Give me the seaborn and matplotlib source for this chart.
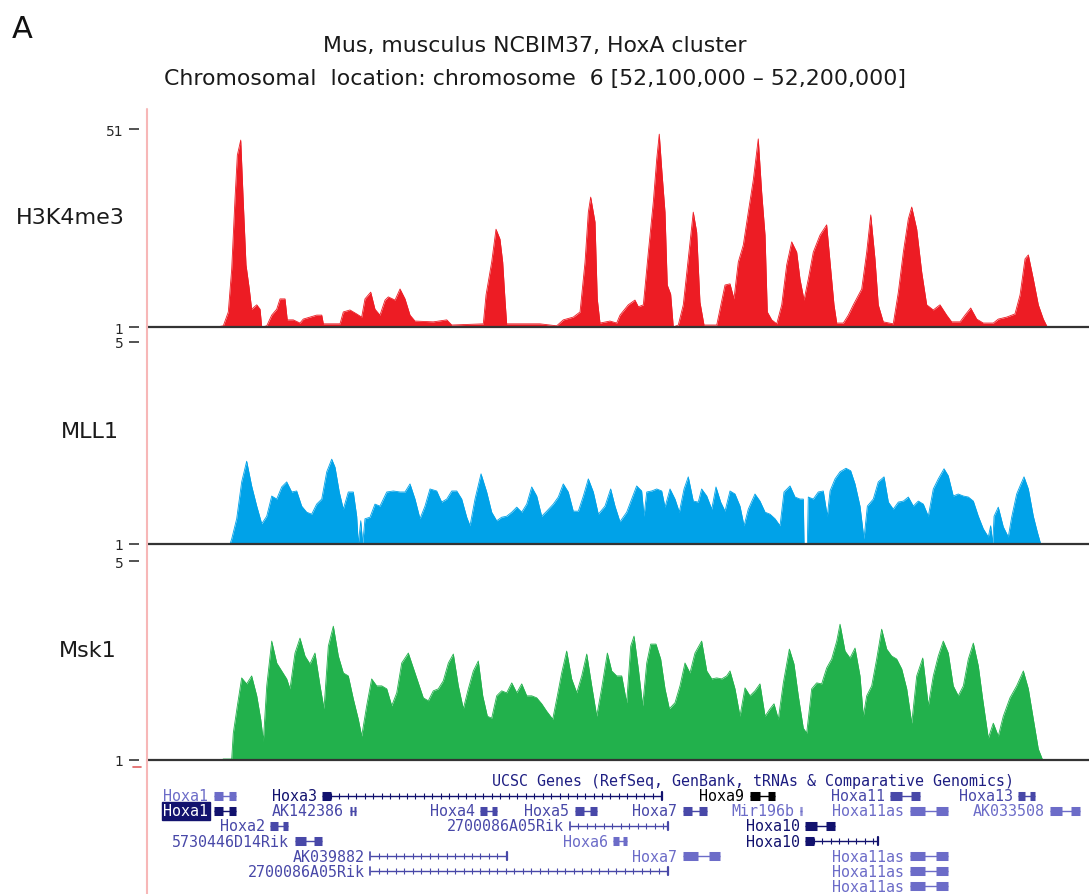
import numpy as np
import matplotlib.pyplot as plt
from matplotlib.lines import Line2D
import seaborn as sns

# 信号轨道数据：位置为 chr6:52,100,000 起的 kb 偏移
h3k4me3_kb = [7.40, 8.10, 8.63, 8.99, 9.34, 9.59, 9.95, 10.22, 10.51, 10.86,
              11.11, 11.65, 12.00, 12.18, 12.71, 13.24, 13.77, 14.12, 14.65, 14.89,
              15.53, 16.24, 16.59, 17.30, 18.01, 18.55, 18.72, 20.49, 20.84, 21.55,
              22.26, 22.79, 23.14, 23.75, 24.20, 24.73, 25.27, 25.62, 26.33, 26.86,
              27.39, 27.92, 28.45, 30.39, 31.82, 32.35, 35.70, 35.99, 36.59, 37.05,
              37.47, 37.76, 38.00, 38.18, 41.72, 43.49, 44.19, 45.25, 45.97, 46.50,
              46.85, 47.10, 47.56, 47.80, 48.09, 49.15, 49.86, 50.21, 51.09, 51.80,
              52.16, 52.69, 53.22, 53.75, 54.11, 54.38, 54.64, 54.99, 55.23, 55.59,
              55.87, 56.40, 56.93, 57.46, 57.99, 58.35, 58.70, 59.13, 60.48, 60.83,
              61.36, 61.89, 62.31, 62.77, 63.30, 63.83, 64.36, 64.89, 65.25, 65.61,
              65.85, 66.32, 66.85, 67.38, 67.91, 68.44, 68.97, 69.32, 69.75, 70.20,
              70.73, 71.44, 72.15, 72.51, 72.93, 73.22, 73.92, 74.45, 74.98, 75.87,
              76.40, 76.83, 77.28, 77.63, 78.16, 79.22, 79.76, 80.29, 80.82, 81.18,
              81.71, 82.24, 82.77, 83.47, 84.18, 84.89, 85.42, 86.31, 86.84, 87.44,
              88.08, 88.78, 89.84, 90.37, 91.26, 92.14, 92.68, 93.21, 93.56, 94.09,
              94.62, 95.15, 95.57]
h3k4me3_val = [1.0, 1.3, 4.8, 15.6, 33.3, 44.4, 48.2, 32.6, 16.7, 10.6,
               5.5, 6.6, 5.5, 1.0, 1.3, 4.0, 5.5, 8.1, 8.1, 2.8,
               2.8, 2.0, 3.0, 3.5, 4.0, 4.0, 1.8, 1.8, 4.8, 5.3,
               4.3, 3.5, 8.1, 9.8, 5.5, 4.0, 7.8, 8.6, 7.8, 10.6,
               8.1, 4.0, 2.5, 2.3, 2.8, 1.5, 1.8, 9.1, 17.4, 25.7,
               23.2, 17.4, 8.1, 1.8, 1.8, 1.3, 2.8, 3.5, 4.8, 17.4,
               30.0, 33.8, 27.5, 8.1, 2.0, 2.5, 2.0, 4.0, 6.6, 7.8,
               6.1, 6.6, 19.9, 32.6, 43.4, 49.7, 40.9, 30.0, 11.6, 9.3,
               1.0, 1.5, 6.6, 18.2, 30.0, 25.0, 7.3, 1.5, 1.5, 5.5,
               11.6, 11.9, 8.1, 17.4, 21.7, 30.0, 38.1, 48.5, 35.1, 24.2,
               4.8, 2.8, 1.8, 6.6, 16.7, 22.5, 19.9, 13.1, 7.8, 13.1,
               19.9, 24.2, 26.8, 17.4, 6.6, 2.0, 2.0, 4.0, 6.6, 10.6,
               19.9, 29.3, 18.2, 6.6, 2.3, 1.8, 9.8, 19.9, 28.3, 31.3,
               25.7, 14.9, 6.6, 5.3, 6.6, 4.0, 2.3, 2.3, 4.0, 5.8,
               3.0, 2.0, 2.0, 3.0, 3.5, 4.3, 9.1, 18.2, 19.2, 13.1,
               6.6, 3.0, 1.0]

mll1_kb = [8.81, 8.99, 9.52, 10.05, 10.58, 11.11, 11.65, 12.18, 12.71, 13.24,
           13.77, 14.30, 14.83, 15.36, 15.89, 16.42, 16.95, 17.48, 18.01, 18.55,
           19.08, 19.61, 19.96, 20.41, 20.84, 21.37, 21.90, 22.26, 22.43, 22.69,
           22.90, 23.14, 23.67, 24.20, 24.73, 25.45, 26.15, 26.86, 27.39, 27.92,
           28.45, 28.98, 29.51, 30.04, 30.75, 31.28, 31.82, 32.35, 32.88, 33.41,
           33.94, 34.29, 34.82, 35.46, 36.06, 36.59, 37.12, 37.65, 38.18, 38.72,
           39.25, 39.78, 40.31, 40.84, 41.37, 41.90, 42.43, 43.13, 43.66, 44.19,
           44.72, 45.25, 45.79, 46.32, 46.85, 47.38, 47.91, 48.62, 49.22, 49.68,
           50.21, 50.92, 51.45, 51.98, 52.51, 52.76, 53.05, 53.58, 54.11, 54.64,
           54.99, 55.52, 56.05, 56.51, 57.01, 57.46, 57.99, 58.52, 58.88, 59.42,
           59.95, 60.40, 60.90, 61.36, 61.89, 62.42, 62.95, 63.38, 63.83, 64.54,
           65.07, 65.61, 66.14, 66.67, 67.20, 67.62, 68.26, 68.79, 69.32, 69.67,
           69.75, 70.10, 70.20, 70.73, 71.26, 71.79, 72.22, 72.51, 73.04, 73.57,
           74.20, 74.70, 75.16, 75.69, 76.11, 76.47, 77.10, 77.63, 78.24, 78.70,
           79.22, 79.76, 80.29, 80.82, 81.35, 81.88, 82.41, 82.94, 83.47, 84.00,
           84.61, 85.06, 85.59, 86.12, 86.66, 87.19, 87.72, 88.25, 88.78, 89.31,
           89.56, 89.78, 89.92, 90.37, 90.90, 91.43, 91.79, 92.32, 92.68, 93.10,
           93.56, 94.09, 94.51, 94.87]
mll1_val = [1.00, 1.10, 1.50, 2.23, 2.64, 2.15, 1.75, 1.40, 1.55, 1.95,
            1.89, 2.13, 2.23, 2.03, 2.05, 1.75, 1.63, 1.59, 1.79, 1.89,
            2.43, 2.68, 2.52, 2.03, 1.69, 2.03, 2.03, 1.55, 1.00, 1.46,
            1.00, 1.50, 1.53, 1.79, 1.75, 2.03, 2.05, 2.03, 2.03, 2.19,
            1.89, 1.50, 1.75, 2.09, 2.05, 1.83, 1.89, 2.05, 2.05, 1.89,
            1.53, 1.36, 1.89, 2.39, 2.03, 1.63, 1.46, 1.53, 1.55, 1.63,
            1.73, 1.63, 1.79, 2.13, 1.95, 1.55, 1.65, 1.79, 1.93, 2.19,
            2.03, 1.65, 1.65, 1.95, 2.29, 2.03, 1.59, 1.75, 2.09, 1.75,
            1.44, 1.63, 1.89, 2.15, 2.05, 1.55, 2.03, 2.05, 2.09, 2.05,
            1.73, 2.09, 1.89, 1.63, 2.09, 2.33, 1.85, 1.83, 2.09, 1.95,
            1.69, 2.13, 1.83, 1.65, 2.05, 1.99, 1.75, 1.36, 1.69, 1.99,
            1.85, 1.63, 1.59, 1.50, 1.36, 2.03, 2.15, 1.93, 1.89, 1.89,
            1.00, 1.00, 1.93, 1.89, 2.03, 2.05, 1.55, 2.05, 2.29, 2.43,
            2.50, 2.45, 2.19, 1.75, 1.10, 1.75, 1.89, 2.23, 2.33, 1.83,
            1.69, 1.83, 1.85, 1.93, 1.75, 1.85, 1.79, 1.55, 2.09, 2.29,
            2.49, 2.35, 1.95, 1.99, 1.95, 1.93, 1.85, 1.55, 1.30, 1.14,
            1.36, 1.00, 1.55, 1.73, 1.34, 1.14, 1.53, 1.99, 2.15, 2.33,
            2.09, 1.55, 1.24, 1.00]

msk1_kb = [7.93, 8.10, 8.99, 9.16, 9.59, 10.05, 10.58, 11.11, 11.65, 12.07,
           12.35, 12.71, 13.24, 13.77, 14.30, 14.83, 15.18, 15.71, 16.24, 16.77,
           17.30, 17.83, 18.37, 18.79, 19.25, 19.78, 20.31, 20.84, 21.37, 21.90,
           22.43, 22.79, 23.32, 23.85, 24.38, 24.92, 25.45, 25.98, 26.51, 27.04,
           27.74, 28.27, 28.80, 29.33, 29.86, 30.39, 30.92, 31.45, 31.99, 32.52,
           33.05, 33.58, 34.11, 34.64, 35.17, 35.64, 36.13, 36.59, 37.12, 37.65,
           38.18, 38.72, 39.25, 39.78, 40.31, 40.84, 41.37, 41.90, 42.43, 43.07,
           43.56, 44.02, 44.55, 45.08, 45.62, 46.15, 46.68, 47.21, 47.74, 48.27,
           48.87, 49.33, 49.86, 50.39, 50.92, 51.35, 51.70, 52.16, 52.62, 53.05,
           53.47, 54.03, 54.53, 54.99, 55.45, 56.05, 56.58, 57.11, 57.64, 58.17,
           58.88, 59.42, 59.95, 60.48, 61.01, 61.54, 61.89, 62.42, 62.95, 63.48,
           64.01, 64.54, 65.07, 65.61, 66.14, 66.56, 67.02, 67.55, 68.19, 68.68,
           69.14, 69.67, 70.03, 70.56, 71.09, 71.62, 72.15, 72.68, 73.22, 73.57,
           74.10, 74.63, 75.16, 75.69, 76.04, 76.40, 76.93, 77.46, 77.99, 78.52,
           79.05, 79.58, 80.12, 80.65, 81.18, 81.71, 82.35, 82.94, 83.47, 84.00,
           84.53, 85.06, 85.59, 86.12, 86.66, 87.19, 87.72, 88.25, 88.71, 89.31,
           89.84, 90.37, 90.90, 91.61, 92.32, 93.03, 93.56, 94.09, 94.62, 95.08]
msk1_val = [1.00, 1.02, 1.02, 1.54, 2.09, 2.65, 2.53, 2.69, 2.29, 1.82,
            1.38, 2.49, 3.39, 2.95, 2.79, 2.63, 2.43, 3.15, 3.45, 3.09,
            2.93, 3.15, 2.49, 2.03, 3.29, 3.69, 3.09, 2.75, 2.69, 2.23,
            1.82, 1.48, 2.09, 2.63, 2.49, 2.49, 2.43, 2.09, 2.35, 2.95,
            3.15, 2.85, 2.55, 2.25, 2.19, 2.39, 2.43, 2.59, 2.95, 3.13,
            2.49, 2.03, 2.43, 2.79, 2.99, 2.29, 1.88, 1.84, 2.29, 2.39,
            2.35, 2.55, 2.35, 2.53, 2.29, 2.29, 2.25, 2.13, 1.98, 1.82,
            2.29, 2.75, 3.19, 2.63, 2.35, 2.69, 3.13, 2.49, 1.88, 2.45,
            3.15, 2.79, 2.69, 2.69, 2.15, 3.29, 3.49, 2.83, 2.09, 2.95,
            3.33, 3.33, 3.03, 2.43, 2.03, 2.15, 2.49, 2.95, 2.75, 3.15,
            3.39, 2.79, 2.63, 2.65, 2.63, 2.69, 2.79, 2.43, 1.88, 2.45,
            2.29, 2.39, 2.53, 1.88, 2.03, 2.13, 1.82, 2.55, 3.23, 2.93,
            2.29, 1.64, 1.54, 2.43, 2.55, 2.53, 2.85, 3.03, 3.39, 3.73,
            3.19, 3.05, 3.25, 2.69, 1.88, 2.29, 2.49, 3.03, 3.63, 3.23,
            3.09, 3.03, 2.83, 2.43, 1.74, 2.69, 3.05, 2.09, 2.69, 3.09,
            3.39, 3.15, 2.49, 2.29, 2.49, 3.03, 3.35, 2.89, 2.23, 1.44,
            1.74, 1.48, 1.88, 2.25, 2.49, 2.79, 2.43, 1.82, 1.22, 1.00]

# 基因注释（UCSC Genes）
gene_names = ['Hoxa1', 'Hoxa3', 'Hoxa9', 'Hoxa11', 'Hoxa13',
              'Hoxa1', 'AK142386', 'Hoxa4', 'Hoxa5', 'Hoxa7', 'Mir196b', 'Hoxa11as', 'AK033508',
              'Hoxa2', '2700086A05Rik', 'Hoxa10',
              '5730446D14Rik', 'Hoxa6', 'Hoxa10',
              'AK039882', 'Hoxa7', 'Hoxa11as',
              '2700086A05Rik', 'Hoxa11as',
              'Hoxa11as']
gene_rows = [1, 1, 1, 1, 1,
             2, 2, 2, 2, 2, 2, 2, 2,
             3, 3, 3,
             4, 4, 4,
             5, 5, 5,
             6, 6,
             7]
gene_start = [7.1, 18.6, 64.0, 78.9, 92.5,
              7.1, 21.5, 35.4, 45.4, 56.9, 69.3, 81.0, 95.9,
              13.1, 44.9, 69.9,
              15.7, 49.5, 69.9,
              23.7, 56.9, 81.0,
              23.7, 81.0,
              81.0]
gene_end = [9.4, 54.7, 66.7, 82.1, 94.3,
            9.4, 22.2, 37.2, 47.8, 59.4, 69.5, 85.0, 99.0,
            15.0, 55.3, 73.0,
            18.6, 51.0, 77.6,
            38.2, 60.8, 85.0,
            55.3, 85.0,
            85.0]
gene_kind = ['light', 'dark', 'black', 'mid', 'mid',
             'select', 'mid', 'mid', 'mid', 'mid', 'light', 'light', 'light',
             'mid', 'mid', 'dark',
             'mid', 'light', 'dark',
             'mid', 'light', 'light',
             'mid', 'light',
             'light']

sns.set_style('white')
plt.rcParams['font.family'] = ['DejaVu Sans']

W, H = 1089, 895
fig = plt.figure(figsize=(W / 100, H / 100), dpi=100)


def box(left, top, right, bottom):
    return [left / W, 1 - bottom / H, (right - left) / W, (bottom - top) / H]


tracks = [
    ('H3K4me3', h3k4me3_kb, h3k4me3_val, '#ed1c24', 51, (130, 328), (70, 218)),
    ('MLL1', mll1_kb, mll1_val, '#00a2e8', 5, (343, 545), (90, 432)),
    ('Msk1', msk1_kb, msk1_val, '#22b14c', 5, (562, 761), (88, 651)),
]

for name, kb, val, color, top, (y0, y1), (lx, ly) in tracks:
    ax = fig.add_axes(box(147, y0, W, y1))
    ax.fill_between(kb, 1, val, color=color, linewidth=0)
    sns.lineplot(x=kb, y=val, ax=ax, color=color, linewidth=0.6,
                 estimator=None, sort=False)
    ax.axhline(1, color='#333333', linewidth=1.6, clip_on=False)
    ax.set_xlim(0, 100)
    ax.set_ylim(1, top)
    ax.set_xticks([])
    ax.set_yticks([top, 1])
    ax.set_yticklabels([str(top), '1'])
    for lab in ax.get_yticklabels():
        lab.set_fontsize(8.5)
        lab.set_fontweight('bold')
        lab.set_color('#2a2a2a')
    ax.tick_params(axis='y', left=True, length=7, width=1.3, color='#444444', pad=4)
    for s in ['top', 'right', 'bottom']:
        ax.spines[s].set_visible(False)
    ax.spines['left'].set_position(('outward', 6))
    ax.spines['left'].set_visible(False)
    ax.set_xlabel('')
    ax.set_ylabel('')
    fig.text(lx / W, 1 - ly / H, name, ha='center', va='center',
             fontsize=16, color='#1a1a1a')

# 基因轨道
gene_colors = {'dark': '#12126e', 'mid': '#4848a8', 'light': '#6c6cc8',
               'black': '#000000', 'select': '#12126e'}
gax = fig.add_axes(box(147, 768, W, H))
gax.set_xlim(0, 100)
gax.set_ylim(7.53, -0.93)
gax.axis('off')
gax.text(64.3, 0, 'UCSC Genes (RefSeq, GenBank, tRNAs & Comparative Genomics)',
         ha='center', va='center', fontsize=10.8, family='DejaVu Sans Mono',
         color='#1e1e82')

for name, row, s, e, kind in zip(gene_names, gene_rows, gene_start, gene_end, gene_kind):
    col = gene_colors[kind]
    length = e - s
    gax.plot([s, e], [row, row], color=col, linewidth=1, solid_capstyle='butt')
    if length > 4:
        marks = np.arange(s + 0.9, e - 0.3, 0.9)
        gax.plot(marks, [row] * len(marks), linestyle='none', marker='|',
                 markersize=4, markeredgewidth=0.8, color=col)
        gax.plot([e, e], [row - 0.28, row + 0.28], color=col, linewidth=1.6)
        if kind == 'dark':
            gax.plot([s, s + 0.9], [row, row], color=col, linewidth=6.5,
                     solid_capstyle='butt')
        else:
            gax.plot([s, s], [row - 0.28, row + 0.28], color=col, linewidth=1.2)
    else:
        gax.plot([s, s + length * 0.4], [row, row], color=col, linewidth=6.5,
                 solid_capstyle='butt')
        gax.plot([e - length * 0.3, e], [row, row], color=col, linewidth=6.5,
                 solid_capstyle='butt')
    if kind == 'select':
        gax.text(s - 0.6, row, name, ha='right', va='center', fontsize=10.8,
                 family='DejaVu Sans Mono', color='white',
                 bbox=dict(boxstyle='square,pad=0.1', facecolor=col, edgecolor=col))
    else:
        gax.text(s - 0.6, row, name, ha='right', va='center', fontsize=10.8,
                 family='DejaVu Sans Mono', color=col)

# 左侧粉色竖线与标题
fig.add_artist(Line2D([147 / W, 147 / W], [1 - 110 / H, 0], color='#f7b7b7', linewidth=1.5))
fig.add_artist(Line2D([133 / W, 141 / W], [1 - 768 / H, 1 - 768 / H], color='#e06060', linewidth=1.2))
fig.text(535 / W, 1 - 46 / H, 'Mus, musculus NCBIM37, HoxA cluster',
         ha='center', va='center', fontsize=15.8, color='#1a1a1a')
fig.text(535 / W, 1 - 79 / H,
         'Chromosomal  location: chromosome  6 [52,100,000 \u2013 52,200,000]',
         ha='center', va='center', fontsize=15.8, color='#1a1a1a')
fig.text(22 / W, 1 - 30 / H, 'A', ha='center', va='center', fontsize=22, color='#111111')

fig.savefig('out.png', dpi=100)
